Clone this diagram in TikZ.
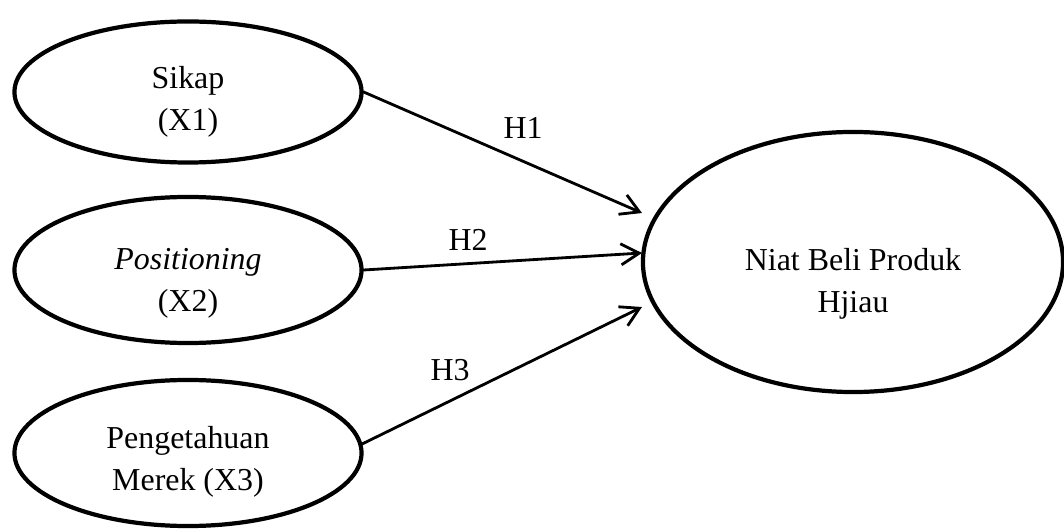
\documentclass[tikz,border=0pt]{standalone}
\usepackage{fontspec}
\setmainfont{Liberation Serif}
\usetikzlibrary{
		arrows.meta,
		shapes.geometric,
		positioning
	}
\tikzset{
		>={Straight Barb[length=13pt,width=15pt]},
		var/.style={draw,ellipse,line width=3pt,inner sep=0pt},
		txt/.style={align=center,font=\fontsize{22.7}{29.8}\selectfont},
		hyp/.style={->,line width=2pt,line cap=round,line join=round}
	}

\begin{document}
\begin{tikzpicture}[x=0.025cm,y=-0.025cm]
\useasboundingbox (0,0) rectangle (1064,530);
\node[var,minimum width=8.675cm,minimum height=3.525cm] (sikap) at (188,92) {};
\node[var,minimum width=8.675cm,minimum height=3.65cm] (posit) at (188,270) {};
\node[var,minimum width=8.675cm,minimum height=3.65cm] (merek) at (188,453) {};
\node[var,minimum width=10.5cm,minimum height=6.5cm] (niat) at (853,262) {};
\node[txt] (tsikap) at (188,102) {Sikap\\(X1)};
\node[txt] (tposit) at (188,283) {\textit{Positioning}\\(X2)};
\node[txt] (tmerek) at (188,462) {Pengetahuan\\Merek (X3)};
\node[txt] (tniat) at (853,284) {Niat Beli Produk\\Hjiau};
\coordinate (e1) at (642,213);
\coordinate (e2) at (642,253);
\coordinate (e3) at (642,307);
\draw[hyp] (sikap.east) -- (e1);
\draw[hyp] (posit.east) -- (e2);
\draw[hyp] (merek.3) -- (e3);
\node[txt] (h1) at (523,128) {H1};
\node[txt] (h2) at (468,240) {H2};
\node[txt] (h3) at (450,370) {H3};
\end{tikzpicture}
\end{document}
